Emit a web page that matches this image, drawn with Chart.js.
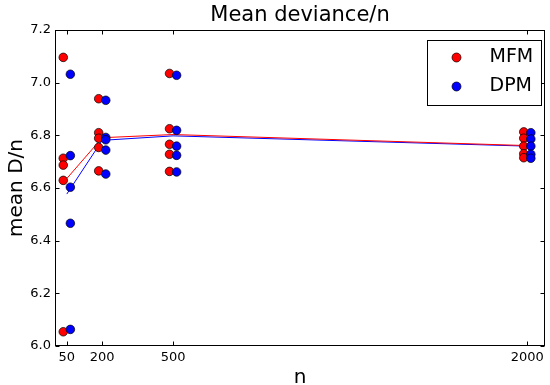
<!DOCTYPE html>
<html>
<head>
<meta charset="utf-8">
<script src="https://cdn.jsdelivr.net/npm/chart.js@4"></script>
<style>
  html, body { margin: 0; padding: 0; background: #fff; }
  #wrap { width: 550px; height: 385px; }
</style>
</head>
<body>
<div id="wrap"><canvas id="deviance-chart" width="550" height="385"></canvas></div>
<script>
// sample sizes
const nValues = [50, 200, 500, 2000];

// mean deviance / n, five runs per sample size
const mfmRuns = [
  [7.096, 6.713, 6.687, 6.629, 6.054],
  [6.939, 6.810, 6.789, 6.754, 6.665],
  [7.035, 6.825, 6.766, 6.728, 6.663],
  [6.813, 6.789, 6.759, 6.730, 6.715]
];
const dpmRuns = [
  [7.032, 6.723, 6.603, 6.466, 6.063],
  [6.933, 6.792, 6.783, 6.744, 6.653],
  [7.028, 6.819, 6.759, 6.724, 6.661],
  [6.810, 6.786, 6.759, 6.728, 6.713]
];

// average over runs
const mfmMean = [6.636, 6.791, 6.803, 6.761];
const dpmMean = [6.577, 6.781, 6.798, 6.759];

const yTicks = [6.0, 6.2, 6.4, 6.6, 6.8, 7.0, 7.2];

const SHIFT = 15; // side-by-side offset so the two models don't hide each other
const FONT = "'DejaVu Sans', sans-serif";

function runPoints(runs, dx) {
  const pts = [];
  runs.forEach((vals, i) => {
    vals.forEach(v => pts.push({ x: nValues[i] + dx, y: v }));
  });
  return pts;
}

function meanPoints(means) {
  return means.map((v, i) => ({ x: nValues[i], y: v }));
}

// frame, inward ticks on every side, title and legend box
const decorPlugin = {
  id: 'decor',
  afterDraw(chart) {
    const ctx = chart.ctx;
    const a = chart.chartArea;
    const xs = chart.scales.x, ys = chart.scales.y;
    const L = Math.round(a.left) + 0.5, R = Math.round(a.right) - 0.5;
    const T = Math.round(a.top) + 0.5, B = Math.round(a.bottom) - 0.5;
    ctx.save();
    ctx.strokeStyle = '#000';
    ctx.lineWidth = 1;
    ctx.strokeRect(L, T, R - L, B - T);

    ctx.beginPath();
    nValues.forEach(n => {
      const px = Math.round(xs.getPixelForValue(n)) + 0.5;
      ctx.moveTo(px, B); ctx.lineTo(px, B - 4);
      ctx.moveTo(px, T); ctx.lineTo(px, T + 4);
    });
    yTicks.forEach(v => {
      const py = Math.round(ys.getPixelForValue(v)) + 0.5;
      ctx.moveTo(L, py); ctx.lineTo(L + 4, py);
      ctx.moveTo(R, py); ctx.lineTo(R - 4, py);
    });
    ctx.stroke();

    // title centred over the axes
    ctx.fillStyle = '#000';
    ctx.font = '21px ' + FONT;
    ctx.textAlign = 'center';
    ctx.textBaseline = 'middle';
    ctx.fillText('Mean deviance/n', (a.left + a.right) / 2, 16);

    // legend
    const bx = 427.5, by = 40.5, bw = 114, bh = 65;
    ctx.fillStyle = '#fff';
    ctx.fillRect(bx, by, bw, bh);
    ctx.strokeRect(bx, by, bw, bh);
    const items = [['MFM', '#ff0000'], ['DPM', '#0000ff']];
    items.forEach((it, i) => {
      const cy = by + 17 + i * 29;
      ctx.beginPath();
      ctx.arc(bx + 29, cy, 4.5, 0, Math.PI * 2);
      ctx.fillStyle = it[1];
      ctx.fill();
      ctx.lineWidth = 0.7;
      ctx.stroke();
      ctx.fillStyle = '#000';
      ctx.font = '19px ' + FONT;
      ctx.textAlign = 'left';
      ctx.fillText(it[0], bx + 62, cy);
    });
    ctx.restore();
  }
};

const ctx = document.getElementById('deviance-chart').getContext('2d');
new Chart(ctx, {
  type: 'scatter',
  data: {
    datasets: [
      {
        label: 'DPM',
        data: runPoints(dpmRuns, SHIFT),
        backgroundColor: '#0000ff',
        borderColor: '#000',
        borderWidth: 0.7,
        pointRadius: 4.3,
        order: 1
      },
      {
        label: 'MFM',
        data: runPoints(mfmRuns, -SHIFT),
        backgroundColor: '#ff0000',
        borderColor: '#000',
        borderWidth: 0.7,
        pointRadius: 4.3,
        order: 2
      },
      {
        label: 'DPM mean',
        data: meanPoints(dpmMean),
        showLine: true,
        borderColor: '#0000ff',
        borderWidth: 1,
        pointRadius: 0,
        order: 4
      },
      {
        label: 'MFM mean',
        data: meanPoints(mfmMean),
        showLine: true,
        borderColor: '#ff0000',
        borderWidth: 1,
        pointRadius: 0,
        order: 3
      }
    ]
  },
  options: {
    responsive: false,
    animation: false,
    layout: { padding: { top: 30, right: 1, left: 0, bottom: 0 } },
    plugins: {
      legend: { display: false },
      tooltip: { enabled: false }
    },
    scales: {
      x: {
        type: 'linear',
        min: 0,
        max: 2075,
        afterBuildTicks: axis => { axis.ticks = nValues.map(v => ({ value: v })); },
        afterFit: axis => { axis.height = 39; },
        grid: { display: false, drawTicks: false },
        border: { display: false },
        ticks: { color: '#000', padding: 4, maxRotation: 0, font: { family: FONT, size: 13 }, callback: v => String(v) },
        title: { display: true, text: 'n', color: '#000', padding: 0, font: { family: FONT, size: 20, lineHeight: 0.75 } }
      },
      y: {
        min: 6.0,
        max: 7.2,
        afterBuildTicks: axis => { axis.ticks = yTicks.map(v => ({ value: v })); },
        afterFit: axis => { axis.width = 55; },
        grid: { display: false, drawTicks: false },
        border: { display: false },
        ticks: { color: '#000', padding: 4, font: { family: FONT, size: 13 }, callback: v => v.toFixed(1) },
        title: { display: true, text: 'mean D/n', color: '#000', padding: { top: 5, bottom: 0 }, font: { family: FONT, size: 20, lineHeight: 1.2 } }
      }
    }
  },
  plugins: [decorPlugin]
});
</script>
</body>
</html>
